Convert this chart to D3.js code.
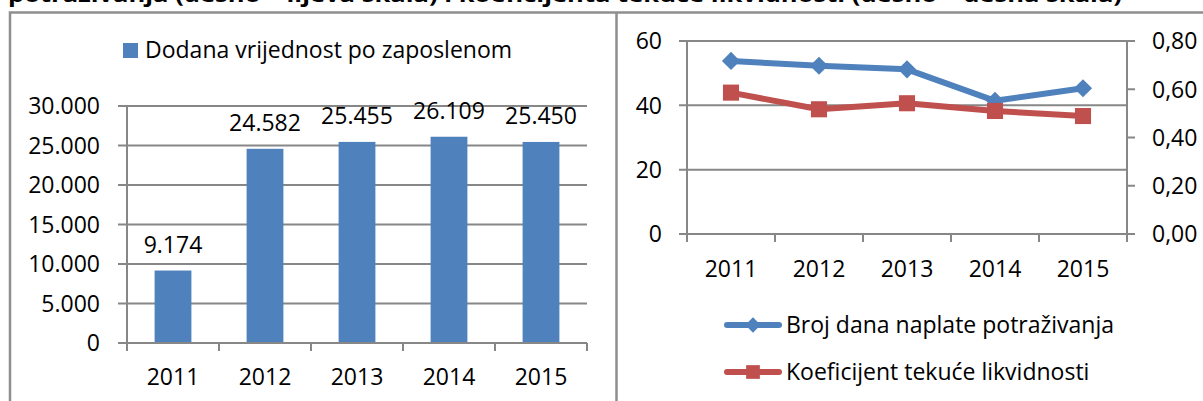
<!DOCTYPE html>
<html>
<head>
<meta charset="utf-8">
<script src="https://cdn.jsdelivr.net/npm/d3@7"></script>
<style>
  html, body { margin: 0; padding: 0; background: #fff; }
  svg { display: block; }
  text { font-family: "Open Sans", "Noto Sans", sans-serif; fill: #000; }
</style>
</head>
<body>
<svg id="chart" width="1203" height="401"></svg>
<script>
// Data
const years = ["2011", "2012", "2013", "2014", "2015"];
const valueAddedPerEmployee = [9174, 24582, 25455, 26109, 25450];
const collectionDays = [53.8, 52.3, 51.2, 41.4, 45.3];
const currentRatio = [0.586, 0.517, 0.542, 0.510, 0.489];

const leftTicks = [0, 5000, 10000, 15000, 20000, 25000, 30000];
const daysTicks = [0, 20, 40, 60];
const ratioTicks = [0, 0.2, 0.4, 0.6, 0.8];

const titleText = "potraživanja (desno – lijeva skala) i koeficijenta tekuće likvidnosti (desno – desna skala)";
const barSeriesName = "Dodana vrijednost po zaposlenom";
const lineSeriesNames = ["Broj dana naplate potraživanja", "Koeficijent tekuće likvidnosti"];

const hr = d3.formatLocale({ decimal: ",", thousands: ".", grouping: [3], currency: ["", ""] });
const fmtInt = hr.format(",d");
const fmt2 = hr.format(".2f");

const blue = "#4F81BD", red = "#C0504D", grid = "#878787", border = "#8e8e8e";
const fs = 23;

const svg = d3.select("#chart");

// Title line (runs past the top edge of the page)
svg.append("text")
  .attr("x", 8).attr("y", 2)
  .attr("textLength", 1114).attr("lengthAdjust", "spacingAndGlyphs")
  .style("font-weight", "bold").style("font-size", "21px")
  .text(titleText);

// Panel frames
svg.append("path")
  .attr("d", "M10,420 V12.5 H1210 M616.5,12.5 V420")
  .attr("fill", "none").attr("stroke", border).attr("stroke-width", 2.5);

// ---------- Left panel: bar chart ----------
{
  const x0 = 127, x1 = 587, yTop = 106, yBot = 343;
  const x = d3.scaleBand().domain(years).range([x0, x1]).paddingInner(0.6).paddingOuter(0.3);
  const xb = d3.scaleBand().domain(years).range([x0, x1]);
  const y = d3.scaleLinear().domain([0, 30000]).range([yBot, yTop]);
  const g = svg.append("g");

  // gridlines + outward ticks
  g.append("g").selectAll("line").data(leftTicks).join("line")
    .attr("x1", x0 - 9).attr("x2", x1)
    .attr("y1", d => y(d)).attr("y2", d => y(d))
    .attr("stroke", grid).attr("stroke-width", 2);

  g.append("g").selectAll("text").data(leftTicks).join("text")
    .attr("x", 100).attr("y", d => y(d)).attr("dy", "0.36em")
    .attr("text-anchor", "end").style("font-size", fs + "px")
    .text(d => fmtInt(d));

  // bars
  g.append("g").selectAll("rect").data(valueAddedPerEmployee).join("rect")
    .attr("x", (d, i) => x(years[i])).attr("width", x.bandwidth())
    .attr("y", d => y(d)).attr("height", d => yBot - y(d))
    .attr("fill", blue);

  // value labels
  g.append("g").selectAll("text").data(valueAddedPerEmployee).join("text")
    .attr("x", (d, i) => x(years[i]) + x.bandwidth() / 2)
    .attr("y", d => y(d) - 18)
    .attr("text-anchor", "middle").style("font-size", fs + "px")
    .text(d => fmtInt(d));

  // axes
  g.append("line").attr("x1", x0).attr("x2", x0).attr("y1", yTop).attr("y2", yBot)
    .attr("stroke", grid).attr("stroke-width", 2);
  g.append("line").attr("x1", x0).attr("x2", x1).attr("y1", yBot).attr("y2", yBot)
    .attr("stroke", grid).attr("stroke-width", 2);
  const bounds = years.map(c => xb(c)).concat([x1]);
  g.append("g").selectAll("line").data(bounds).join("line")
    .attr("x1", d => d).attr("x2", d => d).attr("y1", yBot).attr("y2", yBot + 8)
    .attr("stroke", grid).attr("stroke-width", 2);
  g.append("g").selectAll("text").data(years).join("text")
    .attr("x", d => xb(d) + xb.bandwidth() / 2).attr("y", 385)
    .attr("text-anchor", "middle").style("font-size", fs + "px")
    .text(d => d);

  // legend
  g.append("rect").attr("x", 123).attr("y", 43).attr("width", 15).attr("height", 15).attr("fill", blue);
  g.append("text").attr("x", 145).attr("y", 50).attr("dy", "0.36em")
    .style("font-size", fs + "px").text(barSeriesName);
}

// ---------- Right panel: two-axis line chart ----------
{
  const x0 = 687, x1 = 1127, yTop = 41, yBot = 234;
  const x = d3.scaleBand().domain(years).range([x0, x1]);
  const yL = d3.scaleLinear().domain([0, 60]).range([yBot, yTop]);
  const yR = d3.scaleLinear().domain([0, 0.8]).range([yBot, yTop]);
  const cx = c => x(c) + x.bandwidth() / 2;
  const g = svg.append("g");

  g.append("g").selectAll("line").data(daysTicks).join("line")
    .attr("x1", x0 - 8).attr("x2", x1)
    .attr("y1", d => yL(d)).attr("y2", d => yL(d))
    .attr("stroke", grid).attr("stroke-width", 2);
  g.append("g").selectAll("text").data(daysTicks).join("text")
    .attr("x", 662).attr("y", d => yL(d)).attr("dy", "0.36em")
    .attr("text-anchor", "end").style("font-size", fs + "px")
    .text(d => d);

  // right axis
  g.append("line").attr("x1", x1).attr("x2", x1).attr("y1", yTop).attr("y2", yBot)
    .attr("stroke", grid).attr("stroke-width", 2);
  g.append("g").selectAll("line").data(ratioTicks).join("line")
    .attr("x1", x1).attr("x2", x1 + 8)
    .attr("y1", d => yR(d)).attr("y2", d => yR(d))
    .attr("stroke", grid).attr("stroke-width", 2);
  g.append("g").selectAll("text").data(ratioTicks).join("text")
    .attr("x", 1152).attr("y", d => yR(d)).attr("dy", "0.36em")
    .style("font-size", fs + "px")
    .text(d => fmt2(d));

  // left axis and baseline
  g.append("line").attr("x1", x0).attr("x2", x0).attr("y1", yTop).attr("y2", yBot)
    .attr("stroke", grid).attr("stroke-width", 2);
  g.append("line").attr("x1", x0).attr("x2", x1).attr("y1", yBot).attr("y2", yBot)
    .attr("stroke", grid).attr("stroke-width", 2);
  const bounds = years.map(c => x(c)).concat([x1]);
  g.append("g").selectAll("line").data(bounds).join("line")
    .attr("x1", d => d).attr("x2", d => d).attr("y1", yBot).attr("y2", yBot + 8)
    .attr("stroke", grid).attr("stroke-width", 2);
  g.append("g").selectAll("text").data(years).join("text")
    .attr("x", d => cx(d)).attr("y", 277)
    .attr("text-anchor", "middle").style("font-size", fs + "px")
    .text(d => d);

  const diamond = d3.symbol().type(d3.symbolDiamond2).size(210);
  const square = d3.symbol().type(d3.symbolSquare2).size(330);

  // collection days (left scale)
  const lineL = d3.line().x((d, i) => cx(years[i])).y(d => yL(d));
  g.append("path").datum(collectionDays).attr("d", lineL)
    .attr("fill", "none").attr("stroke", blue).attr("stroke-width", 6).attr("stroke-linejoin", "round");
  g.append("g").selectAll("path").data(collectionDays).join("path")
    .attr("transform", (d, i) => `translate(${cx(years[i])},${yL(d)})`)
    .attr("d", diamond).attr("fill", blue);

  // current ratio (right scale)
  const lineR = d3.line().x((d, i) => cx(years[i])).y(d => yR(d));
  g.append("path").datum(currentRatio).attr("d", lineR)
    .attr("fill", "none").attr("stroke", red).attr("stroke-width", 6).attr("stroke-linejoin", "round");
  g.append("g").selectAll("path").data(currentRatio).join("path")
    .attr("transform", (d, i) => `translate(${cx(years[i])},${yR(d)})`)
    .attr("d", square).attr("fill", red);

  // legend
  const leg = [
    { name: lineSeriesNames[0], color: blue, sym: d3.symbol().type(d3.symbolDiamond2).size(150), y: 325 },
    { name: lineSeriesNames[1], color: red, sym: d3.symbol().type(d3.symbolSquare2).size(240), y: 372 }
  ];
  const lg = g.append("g").selectAll("g").data(leg).join("g");
  lg.append("line").attr("x1", 727).attr("x2", 779).attr("y1", d => d.y).attr("y2", d => d.y)
    .attr("stroke", d => d.color).attr("stroke-width", 6).attr("stroke-linecap", "round");
  lg.append("path").attr("transform", d => `translate(753,${d.y})`).attr("d", d => d.sym()).attr("fill", d => d.color);
  lg.append("text").attr("x", 786).attr("y", d => d.y).attr("dy", "0.36em")
    .style("font-size", fs + "px").text(d => d.name);
}
</script>
</body>
</html>
